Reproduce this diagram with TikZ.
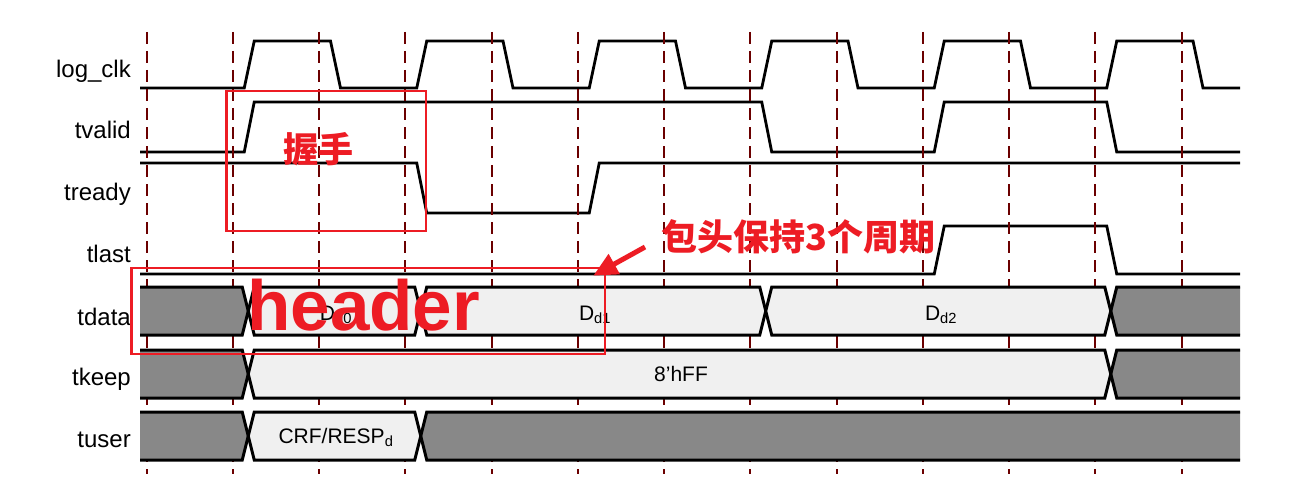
\documentclass[tikz,border=0pt]{standalone}
\usepackage{fontspec}
\setmainfont{Liberation Sans}
\newfontfamily\cjk{Noto Sans CJK SC}
\usepackage{xcolor}
\usetikzlibrary{arrows.meta}

\definecolor{annred}{HTML}{ED1C24}
\definecolor{busfill}{HTML}{888888}
\definecolor{buslight}{HTML}{F0F0F0}
\definecolor{gridred}{HTML}{6B0000}

\begin{document}
\begin{tikzpicture}[x=1pt, y=-1pt,
  sig/.style={anchor=base east, inner sep=0pt, font=\fontsize{24}{27}\selectfont},
  wave/.style={line width=2.8pt},
  grid/.style={draw=gridred, line width=2pt, dash pattern=on 12pt off 7pt},
  bus/.style={draw, line width=3pt},
  bustext/.style={anchor=base, inner sep=0pt, font=\fontsize{21}{24}\selectfont},
  redbox/.style={draw=annred, line width=2.6pt, inner sep=0pt},
  redtext/.style={text=annred, inner sep=0pt},
  redarrow/.style={draw=annred, line width=5pt, -{Triangle[length=24pt, width=22pt]}}
]
\path[use as bounding box, fill=white] (0,0) rectangle (1289,500);

% ── Signal names ─────────────────────────────────────────────
\node[sig] (n_clk)   at (131,78)  {log\_clk};
\node[sig] (n_valid) at (131,138) {tvalid};
\node[sig] (n_ready) at (131,200) {tready};
\node[sig] (n_last)  at (131,262) {tlast};
\node[sig] (n_data)  at (131,325) {tdata};
\node[sig] (n_keep)  at (131,385) {tkeep};
\node[sig] (n_user)  at (131,447) {tuser};

% ── Single-bit waves ─────────────────────────────────────────
\draw[wave] (140,88) foreach \i in {0,...,5}{ -- ({244.25+172.5*\i},88) -- ++(10,-47) -- ({330.5+172.5*\i},41) -- ++(10,47)} -- (1240,88);
\draw[wave] (140,152) -- (244.25,152) -- ++(10,-50) -- (761.75,102) -- ++(10,50) -- (934.25,152) -- ++(10,-50) -- (1106.75,102) -- ++(10,50) -- (1240,152);
\draw[wave] (140,163) -- (416.75,163) -- ++(10,50) -- (589.25,213) -- ++(10,-50) -- (1240,163);
\draw[wave] (140,274) -- (934.25,274) -- ++(10,-48) -- (1106.75,226) -- ++(10,48) -- (1240,274);

% ── Half-period grid ─────────────────────────────────────────
\foreach \k in {0,...,12}
  \draw[grid] ({146.5+86.25*\k},32) -- ++(0,442);

% ── Buses ────────────────────────────────────────────────────
\foreach \y in {287,350,412}
  \draw[bus, fill=busfill] (140,\y) -- (242.25,\y) -- (248.25,{\y+24}) -- (242.25,{\y+48}) -- (140,{\y+48});
\foreach \a/\y in {1106.75/287, 1106.75/350, 416.75/412}
  \draw[bus, fill=busfill] (1240,\y) -- ({\a+10},\y) -- ({\a+4},{\y+24}) -- ({\a+10},{\y+48}) -- (1240,{\y+48});
\foreach \a/\b/\y in {244.25/416.75/287, 416.75/761.75/287, 761.75/1106.75/287,
                      244.25/1106.75/350, 244.25/416.75/412}
  \draw[bus, fill=buslight] ({\a+10},\y) -- ({\b-2},\y) -- ({\b+4},{\y+24}) -- ({\b-2},{\y+48})
    -- ({\a+10},{\y+48}) -- ({\a+4},{\y+24}) -- cycle;

\node[bustext] (d0)   at (336,320) {D\textsubscript{d0}};
\node[bustext] (d1)   at (595,320) {D\textsubscript{d1}};
\node[bustext] (d2)   at (941,320) {D\textsubscript{d2}};
\node[bustext] (keep) at (681,381) {8'hFF};
\node[bustext] (crf)  at (336,443) {CRF/RESP\textsubscript{d}};

% ── Annotations ──────────────────────────────────────────────
\node[redbox, minimum width=199.5pt, minimum height=140pt] (hsbox) at (326.25,161) {};
\node[redtext, font=\cjk\bfseries\fontsize{35}{40}\selectfont] (hs) at (318,149) {握手};
\node[redbox, minimum width=473.5pt, minimum height=86pt] (hdrbox) at (368.25,311) {};
\node[redtext, anchor=base west, font=\bfseries\fontsize{71}{80}\selectfont] (hdr) at (247,330) {header};
\node[redtext, anchor=west, font=\cjk\bfseries\fontsize{36}{40}\selectfont] (note) at (661,237) {包头保持3个周期};
\draw[redarrow] ([shift={(-16,10)}]note.west) -- ([shift={(-13,9)}]hdrbox.north east);
\end{tikzpicture}
\end{document}
